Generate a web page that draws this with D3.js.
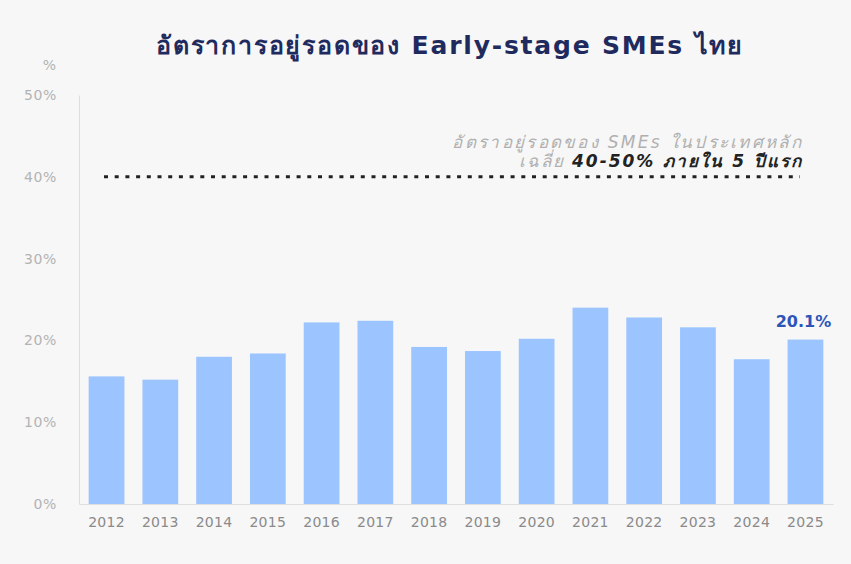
<!DOCTYPE html>
<html lang="th">
<head>
    <meta charset="UTF-8"/>
    <title>อัตราการอยู่รอดของ Early-stage SMEs ไทย</title>
    <script src="https://d3js.org/d3.v7.min.js"></script>
    <style>
        body { margin: 0; background: #f7f7f7; }
        svg { display: block; font-family: "DejaVu Sans", "Noto Sans", sans-serif; }
    </style>
</head>
<body>
    <script>
        var w = 851;
        var h = 564;

        // data
        var years = ["2012", "2013", "2014", "2015", "2016", "2017", "2018",
                     "2019", "2020", "2021", "2022", "2023", "2024", "2025"];
        var survival = [15.6, 15.2, 18.0, 18.4, 22.2, 22.4, 19.2,
                        18.7, 20.2, 24.0, 22.8, 21.6, 17.7, 20.1];
        var yTicks = [0, 10, 20, 30, 40, 50];
        var benchmark = 40;

        var svg = d3.select("body")
                    .append("svg")
                    .attr("width", w)
                    .attr("height", h);

        svg.append("rect")
           .attr("width", w)
           .attr("height", h)
           .attr("fill", "#f7f7f7");

        var xScale = d3.scaleBand()
                       .domain(years)
                       .range([79, 833])
                       .paddingInner(0.335)
                       .paddingOuter(0.18);

        var yScale = d3.scaleLinear()
                       .domain([0, 50])
                       .range([504, 95]);

        // title
        svg.append("text")
           .attr("x", 450)
           .attr("y", 54)
           .attr("text-anchor", "middle")
           .attr("font-size", "25px")
           .attr("font-weight", "bold")
           .attr("letter-spacing", "1.8px")
           .attr("fill", "#1f2b5e")
           .text("อัตราการอยู่รอดของ Early-stage SMEs ไทย");

        // y axis
        var yAxis = d3.axisLeft(yScale)
                      .tickValues(yTicks)
                      .tickSize(0)
                      .tickPadding(22)
                      .tickFormat(function(d) { return d + "%"; });

        var gy = svg.append("g")
                    .attr("transform", "translate(79,0)")
                    .call(yAxis);
        gy.select(".domain").attr("stroke", "#dedede");
        gy.selectAll("text")
          .attr("font-size", "14px")
          .attr("letter-spacing", "0.6px")
          .attr("fill", "#b3b3b3")
          .attr("font-family", "DejaVu Sans, sans-serif");

        svg.append("text")
           .attr("x", 56)
           .attr("y", 70)
           .attr("text-anchor", "end")
           .attr("font-size", "14px")
           .attr("fill", "#b3b3b3")
           .text("%");

        // x axis
        var xAxis = d3.axisBottom(xScale)
                      .tickSize(0)
                      .tickPadding(13);

        var gx = svg.append("g")
                    .attr("transform", "translate(0,504)")
                    .call(xAxis);
        gx.select(".domain").attr("stroke", "#dedede");
        gx.selectAll("text")
          .attr("font-size", "14px")
          .attr("letter-spacing", "0.3px")
          .attr("fill", "#8a8a8a")
          .attr("font-family", "DejaVu Sans, sans-serif");

        // bars
        svg.selectAll("rect.bar")
           .data(survival)
           .enter()
           .append("rect")
           .attr("class", "bar")
           .attr("x", function(d, i) { return xScale(years[i]); })
           .attr("y", function(d) { return yScale(d); })
           .attr("width", xScale.bandwidth())
           .attr("height", function(d) { return yScale(0) - yScale(d); })
           .attr("fill", "#9cc5ff");

        // label on the last bar
        var last = survival.length - 1;
        svg.append("text")
           .attr("x", xScale(years[last]) + xScale.bandwidth() / 2 - 2)
           .attr("y", yScale(survival[last]) - 13)
           .attr("text-anchor", "middle")
           .attr("font-size", "16px")
           .attr("font-weight", "bold")
           .attr("fill", "#2d55b8")
           .text(survival[last].toFixed(1) + "%");

        // benchmark line
        svg.append("line")
           .attr("x1", 104)
           .attr("x2", 800)
           .attr("y1", yScale(benchmark))
           .attr("y2", yScale(benchmark))
           .attr("stroke", "#222")
           .attr("stroke-width", 3)
           .attr("stroke-dasharray", "4 6.7");

        svg.append("text")
           .attr("x", 803)
           .attr("y", 148)
           .attr("text-anchor", "end")
           .attr("font-size", "17px")
           .attr("font-style", "italic")
           .attr("letter-spacing", "2.3px")
           .attr("fill", "#b0b0b0")
           .text("อัตราอยู่รอดของ SMEs ในประเทศหลัก");

        var note = svg.append("text")
                      .attr("x", 803)
                      .attr("y", 167)
                      .attr("text-anchor", "end")
                      .attr("font-size", "17px")
                      .attr("font-style", "italic")
                      .attr("letter-spacing", "2px");
        note.append("tspan")
            .attr("fill", "#b0b0b0")
            .text("เฉลี่ย ");
        note.append("tspan")
            .attr("fill", "#222")
            .attr("font-weight", "bold")
            .text("40-50% ภายใน 5 ปีแรก");
    </script>
</body>
</html>
